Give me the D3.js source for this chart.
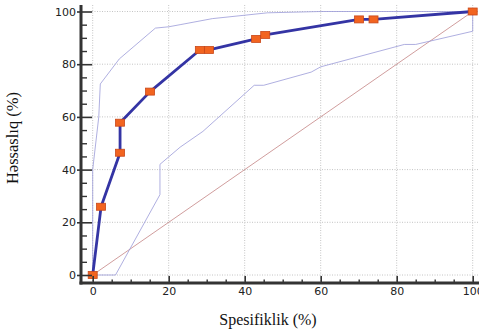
<!DOCTYPE html>
<html>
<head>
<meta charset="utf-8">
<script src="https://cdn.jsdelivr.net/npm/d3@7"></script>
<style>
  body { margin: 0; background: #fff; }
  svg { display: block; }
</style>
</head>
<body>
<div id="chart"></div>
<script>
// ROC curve points (specificity %, sensitivity %)
const rocX = [0, 2.2, 7.2, 7.2, 15.1, 28.2, 30.6, 43, 45.4, 70.1, 73.9, 100];
const rocY = [0, 25.9, 46.4, 57.8, 69.6, 85.4, 85.4, 89.6, 91.1, 97, 97, 100];

// confidence bounds
const upperX = [0, 0, 1.6, 2, 7, 16.5, 20, 23, 31.5, 46, 60, 100];
const upperY = [0, 40, 60, 72.5, 82, 93.7, 94.2, 95, 97.3, 99.5, 100, 100];
const lowerX = [0, 6, 17.7, 17.7, 23, 29, 42.5, 45, 57.5, 60, 82, 85, 100, 100];
const lowerY = [0, 0, 30.5, 42, 48.5, 54.5, 72, 72, 77, 79, 87.5, 87.5, 92.5, 100];

const majorTicks = [0, 20, 40, 60, 80, 100];
const minorTicks = d3.range(0, 101, 5).filter(v => v % 20 !== 0);

const width = 479;
const height = 331;

const x = d3.scaleLinear().domain([0, 100]).range([92.7, 472.7]);
const y = d3.scaleLinear().domain([0, 100]).range([275, 11.5]);

const svg = d3.select("#chart")
    .append("svg")
    .attr("width", width)
    .attr("height", height);

// grid lines
const grid = svg.append("g");
grid.selectAll("line.v")
    .data(majorTicks)
    .join("line")
    .attr("x1", d => x(d)).attr("x2", d => x(d))
    .attr("y1", 5).attr("y2", 281)
    .attr("stroke", "#c4c4c4")
    .attr("stroke-dasharray", "1,1.5");
grid.selectAll("line.h")
    .data(majorTicks)
    .join("line")
    .attr("x1", 92).attr("x2", width)
    .attr("y1", d => y(d)).attr("y2", d => y(d))
    .attr("stroke", "#c4c4c4")
    .attr("stroke-dasharray", "1,1.5");

const line = d3.line().x(d => x(d[0])).y(d => y(d[1]));

// diagonal reference
svg.append("path")
    .attr("d", line([[0, 0], [100, 100]]))
    .attr("fill", "none")
    .attr("stroke", "#c48484")
    .attr("stroke-width", 0.8);

// confidence bounds
[[upperX, upperY], [lowerX, lowerY]].forEach(([xs, ys]) => {
    svg.append("path")
        .attr("d", line(xs.map((v, i) => [v, ys[i]])))
        .attr("fill", "none")
        .attr("stroke", "#9a9ad8")
        .attr("stroke-width", 0.8);
});

// ROC curve
const roc = rocX.map((v, i) => [v, rocY[i]]);
svg.append("path")
    .attr("d", line(roc))
    .attr("fill", "none")
    .attr("stroke", "#3434a4")
    .attr("stroke-width", 2.8)
    .attr("stroke-linejoin", "round");

svg.selectAll("rect.pt")
    .data(roc)
    .join("rect")
    .attr("class", "pt")
    .attr("x", d => x(d[0]) - 4.5)
    .attr("y", d => y(d[1]) - 3.5)
    .attr("width", 9)
    .attr("height", 7)
    .attr("fill", "#f26420")
    .attr("stroke", "#c8481a")
    .attr("stroke-width", 0.8);

// y axis
const yAxis = svg.append("g")
    .attr("transform", "translate(81,0)")
    .call(d3.axisLeft(y).tickValues(majorTicks).tickSizeInner(-11).tickSizeOuter(0).tickPadding(5));
yAxis.selectAll(".tick line").attr("x1", -4).attr("x2", 11).attr("stroke", "#333").attr("stroke-width", 1.6);
yAxis.select(".domain").remove();
yAxis.selectAll("text")
    .style("font-family", "DejaVu Sans")
    .style("font-size", "11px")
    .attr("fill", "#222");
svg.append("g")
    .attr("transform", "translate(81,0)")
    .call(d3.axisLeft(y).tickValues(minorTicks).tickSizeInner(-6).tickSizeOuter(0).tickFormat(""))
    .call(g => g.select(".domain").remove())
    .selectAll(".tick line").attr("stroke", "#333").attr("stroke-width", 1.4);
svg.append("line")
    .attr("x1", 81).attr("x2", 81)
    .attr("y1", 5).attr("y2", 284.5)
    .attr("stroke", "#333")
    .attr("stroke-width", 3);

// x axis
const xAxis = svg.append("g")
    .attr("transform", "translate(0,283)")
    .call(d3.axisBottom(x).tickValues(majorTicks).tickSizeInner(-7).tickSizeOuter(0).tickPadding(4));
xAxis.select(".domain").remove();
xAxis.selectAll(".tick line").attr("stroke", "#333").attr("stroke-width", 1.6);
xAxis.selectAll("text")
    .style("font-family", "DejaVu Sans")
    .style("font-size", "11px")
    .attr("fill", "#222");
svg.append("g")
    .attr("transform", "translate(0,283)")
    .call(d3.axisBottom(x).tickValues(minorTicks).tickSizeInner(-3.5).tickSizeOuter(0).tickFormat(""))
    .call(g => g.select(".domain").remove())
    .selectAll(".tick line").attr("stroke", "#333").attr("stroke-width", 1.4);
svg.append("line")
    .attr("x1", 79.5).attr("x2", width)
    .attr("y1", 283).attr("y2", 283)
    .attr("stroke", "#333")
    .attr("stroke-width", 3);

// axis titles
svg.append("text")
    .attr("x", 268)
    .attr("y", 325)
    .attr("text-anchor", "middle")
    .style("font-family", "Liberation Serif")
    .style("font-size", "16px")
    .attr("fill", "#111")
    .text("Spesifiklik (%)");

svg.append("text")
    .attr("transform", "translate(18,138) rotate(-90)")
    .attr("text-anchor", "middle")
    .style("font-family", "Liberation Serif")
    .style("font-size", "16.5px")
    .attr("fill", "#111")
    .text("Həssaslıq (%)");
</script>
</body>
</html>
